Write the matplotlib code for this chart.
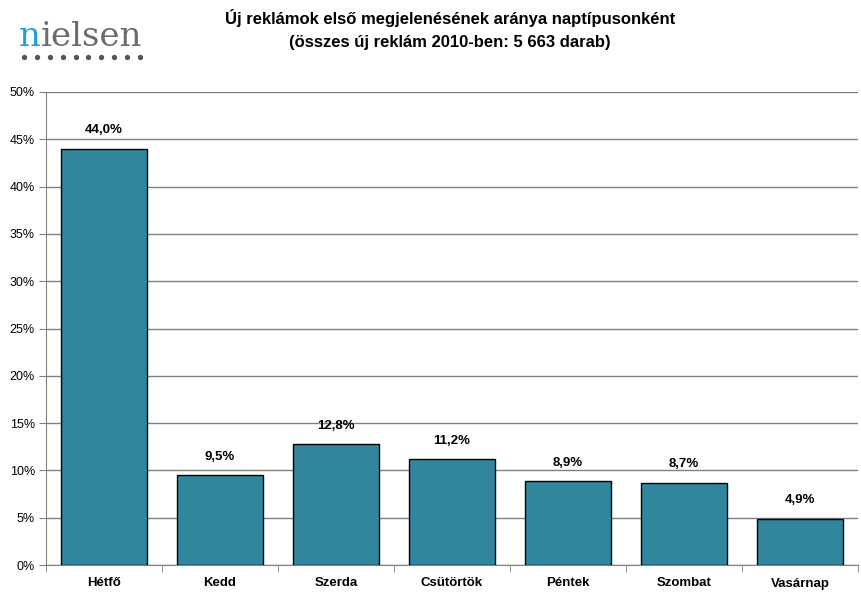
import numpy as np
import matplotlib.pyplot as plt
from matplotlib.lines import Line2D

days = ["Hétfő", "Kedd", "Szerda", "Csütörtök", "Péntek", "Szombat", "Vasárnap"]
shares = [44.0, 9.5, 12.8, 11.2, 8.9, 8.7, 4.9]
yticks = [0, 5, 10, 15, 20, 25, 30, 35, 40, 45, 50]

plt.rcParams['font.family'] = ['Liberation Sans', 'DejaVu Sans']

W, H = 862, 601
fig = plt.figure(figsize=(W/100, H/100), dpi=100)
ax = fig.add_axes([46/W, 1-565/H, 812/W, 473/H])

x = np.arange(len(days))
ax.bar(x, shares, width=0.735, color="#31859C", edgecolor="black", linewidth=1, zorder=3)
for xi, v in zip(x, shares):
    ax.text(xi, v + 1.3, f"{v:.1f}%".replace(".", ","), ha="center", va="bottom",
            fontsize=9.5, fontweight="bold")

ax.set_xlim(-0.5, len(days) - 0.5)
ax.set_ylim(0, 50)
ax.set_yticks(yticks)
ax.set_yticklabels([f"{t}%" for t in yticks], fontsize=9)
ax.yaxis.grid(True, color="#808080", linewidth=1, zorder=0)
ax.set_xticks(x)
ax.set_xticklabels(days, fontsize=9.5, fontweight="bold")
ax.set_xticks(np.arange(-0.5, len(days)), minor=True)
ax.tick_params(axis="x", which="major", length=0, pad=9)
ax.tick_params(axis="x", which="minor", length=5, color="#808080")
ax.tick_params(axis="y", length=5, color="#808080", pad=3)
for s in ["top", "right"]:
    ax.spines[s].set_visible(False)
ax.spines["left"].set_color("#808080")
ax.spines["bottom"].set_color("#808080")

fig.text(450/W, 1-18/H, "Új reklámok első megjelenésének aránya naptípusonként",
         ha="center", va="center", fontsize=12, fontweight="bold")
fig.text(450/W, 1-42/H, "(összes új reklám 2010-ben: 5 663 darab)",
         ha="center", va="center", fontsize=12, fontweight="bold")

# logo
renderer = fig.canvas.get_renderer()
t1 = fig.text(19/W, 1-46/H, "n", color="#1BA1E2", fontsize=24.5, family="DejaVu Serif",
              va="baseline", ha="left")
bb = t1.get_window_extent(renderer)
fig.text(bb.x1/W, 1-46/H, "ielsen", color="#6B6B6B", fontsize=24.5, family="DejaVu Serif",
         va="baseline", ha="left")
dot_x = [(24 + i*12.9)/W for i in range(10)]
fig.add_artist(Line2D(dot_x, [1-57/H]*10, transform=fig.transFigure, linestyle="none",
                      marker="o", markersize=2.8, color="#555555"))

fig.savefig("out.png", dpi=100)
